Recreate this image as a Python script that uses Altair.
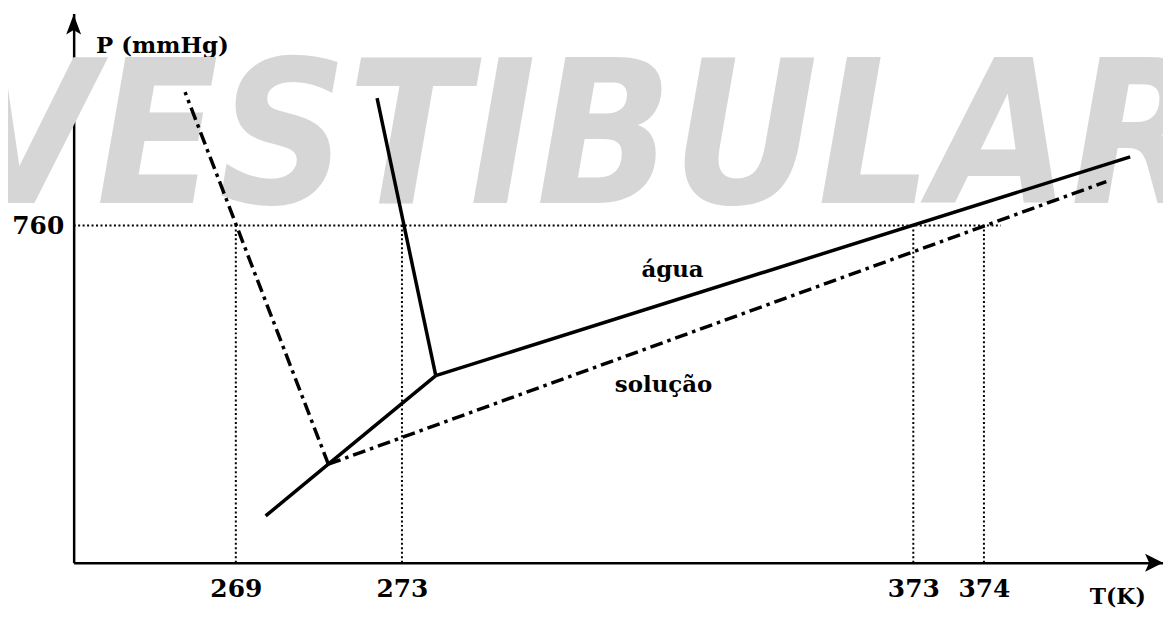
import altair as alt
import pandas as pd

# ---- schematic positions (arbitrary units: u along T axis, v along P axis) ----
# água (solid)
agua_sub_u = [193, 256, 364]
agua_sub_v = [47, 99, 188]
agua_fus_u = [364, 305]
agua_fus_v = [188, 467]
agua_vap_u = [364, 1062]
agua_vap_v = [188, 408]
# solução (dash-dot)
sol_fus_u = [256, 112]
sol_fus_v = [99, 473]
sol_vap_u = [256, 1038]
sol_vap_v = [99, 383]

# axis ticks
t_pos = [163, 330, 844, 915]
t_labels = ["269", "273", "373", "374"]
p_pos = [339]
p_labels = ["760"]
hline_end = 932

# text annotations
label_texts = ["água", "solução"]
label_u = [602, 593]
label_v = [294, 179]

U_MAX = 1095
V_MAX = 552

FONT = "DejaVu Serif"

# ---- tables ----
rows = []
def add(series, seg, us, vs):
    for i, (u, v) in enumerate(zip(us, vs)):
        rows.append({"series": series, "seg": seg, "u": u, "v": v, "o": i})

add("agua", "sub", agua_sub_u, agua_sub_v)
add("agua", "fus", agua_fus_u, agua_fus_v)
add("agua", "vap", agua_vap_u, agua_vap_v)
add("sol", "fus", sol_fus_u, sol_fus_v)
add("sol", "vap", sol_vap_u, sol_vap_v)
lines = pd.DataFrame(rows)

ref_rows = [{"u": u, "u2": u, "v": 0, "v2": p_pos[0]} for u in t_pos]
ref_rows.append({"u": 0, "u2": hline_end, "v": p_pos[0], "v2": p_pos[0]})
refs = pd.DataFrame(ref_rows)

labels = pd.DataFrame({"t": label_texts, "u": label_u, "v": label_v})

def expr(pos, labs):
    e = "''"
    for p, l in reversed(list(zip(pos, labs))):
        e = f"datum.value == {p} ? '{l}' : ({e})"
    return e

x_axis = alt.Axis(values=t_pos, labelExpr=expr(t_pos, t_labels), ticks=False, grid=False,
                  domainColor="black", domainWidth=2.5, labelPadding=14,
                  labelFontSize=25, labelFont=FONT, labelFontWeight="bold", labelColor="black",
                  title="T(K)", titleX=1049, titleY=34,
                  titleAlign="center", titleBaseline="middle", titleFontSize=22,
                  titleFont=FONT, titleFontWeight="bold", titleColor="black")
y_axis = alt.Axis(values=p_pos, labelExpr=expr(p_pos, p_labels), ticks=False, grid=False,
                  domainColor="black", domainWidth=2.5, labelPadding=10,
                  labelFontSize=25, labelFont=FONT, labelFontWeight="bold", labelColor="black",
                  title="P (mmHg)", titleAngle=0, titleX=22, titleY=32,
                  titleAlign="left", titleBaseline="middle", titleFontSize=23,
                  titleFont=FONT, titleFontWeight="bold", titleColor="black")

X = alt.X("u:Q", scale=alt.Scale(domain=[0, U_MAX], nice=False, zero=False), axis=x_axis)
Y = alt.Y("v:Q", scale=alt.Scale(domain=[0, V_MAX], nice=False, zero=False), axis=y_axis)

watermark = alt.Chart(pd.DataFrame({"u": [512], "v": [362]})).mark_text(
    text="VESTIBULAR", font="DejaVu Sans Condensed, Liberation Sans", fontStyle="italic",
    fontWeight="bold", fontSize=200, color="#d6d6d6", align="center", baseline="alphabetic"
).encode(x=X, y=Y)

dotted = alt.Chart(refs).mark_rule(color="black", strokeWidth=2, strokeDash=[2, 2.5]).encode(
    x=X, y=Y, x2="u2:Q", y2="v2:Q")

solid = alt.Chart(lines[lines.series == "agua"]).mark_line(
    color="black", strokeWidth=3.5, strokeJoin="miter").encode(
    x=X, y=Y, detail="seg:N", order="o:Q")

dashdot = alt.Chart(lines[lines.series == "sol"]).mark_line(
    color="black", strokeWidth=3.5, strokeDash=[13, 5, 3.5, 5]).encode(
    x=X, y=Y, detail="seg:N", order="o:Q")

arrow_x = alt.Chart(pd.DataFrame({"u": [U_MAX - 9], "v": [0]})).mark_point(
    shape="M1,0L-1,-1L-0.55,0L-1,1Z", filled=True, size=324, color="black", opacity=1
).encode(x=X, y=Y)
arrow_y = alt.Chart(pd.DataFrame({"u": [0], "v": [V_MAX - 11]})).mark_point(
    shape="M0,-1L0.75,1L0,0.55L-0.75,1Z", filled=True, size=400, color="black", opacity=1
).encode(x=X, y=Y)

texts = alt.Chart(labels).mark_text(font=FONT, fontWeight="bold", fontSize=23,
                                    color="black", align="center", baseline="middle").encode(
    x=X, y=Y, text="t:N")

chart = alt.layer(watermark, dotted, solid, dashdot, arrow_x, arrow_y, texts).properties(
    width=U_MAX, height=V_MAX,
    background="white",
    autosize=alt.AutoSizeParams(type="none"),
    padding={"left": 66, "top": 4, "right": 0, "bottom": 45},
).configure_view(stroke=None)

chart.save("out.html", embed_options={"renderer": "svg", "actions": False})
